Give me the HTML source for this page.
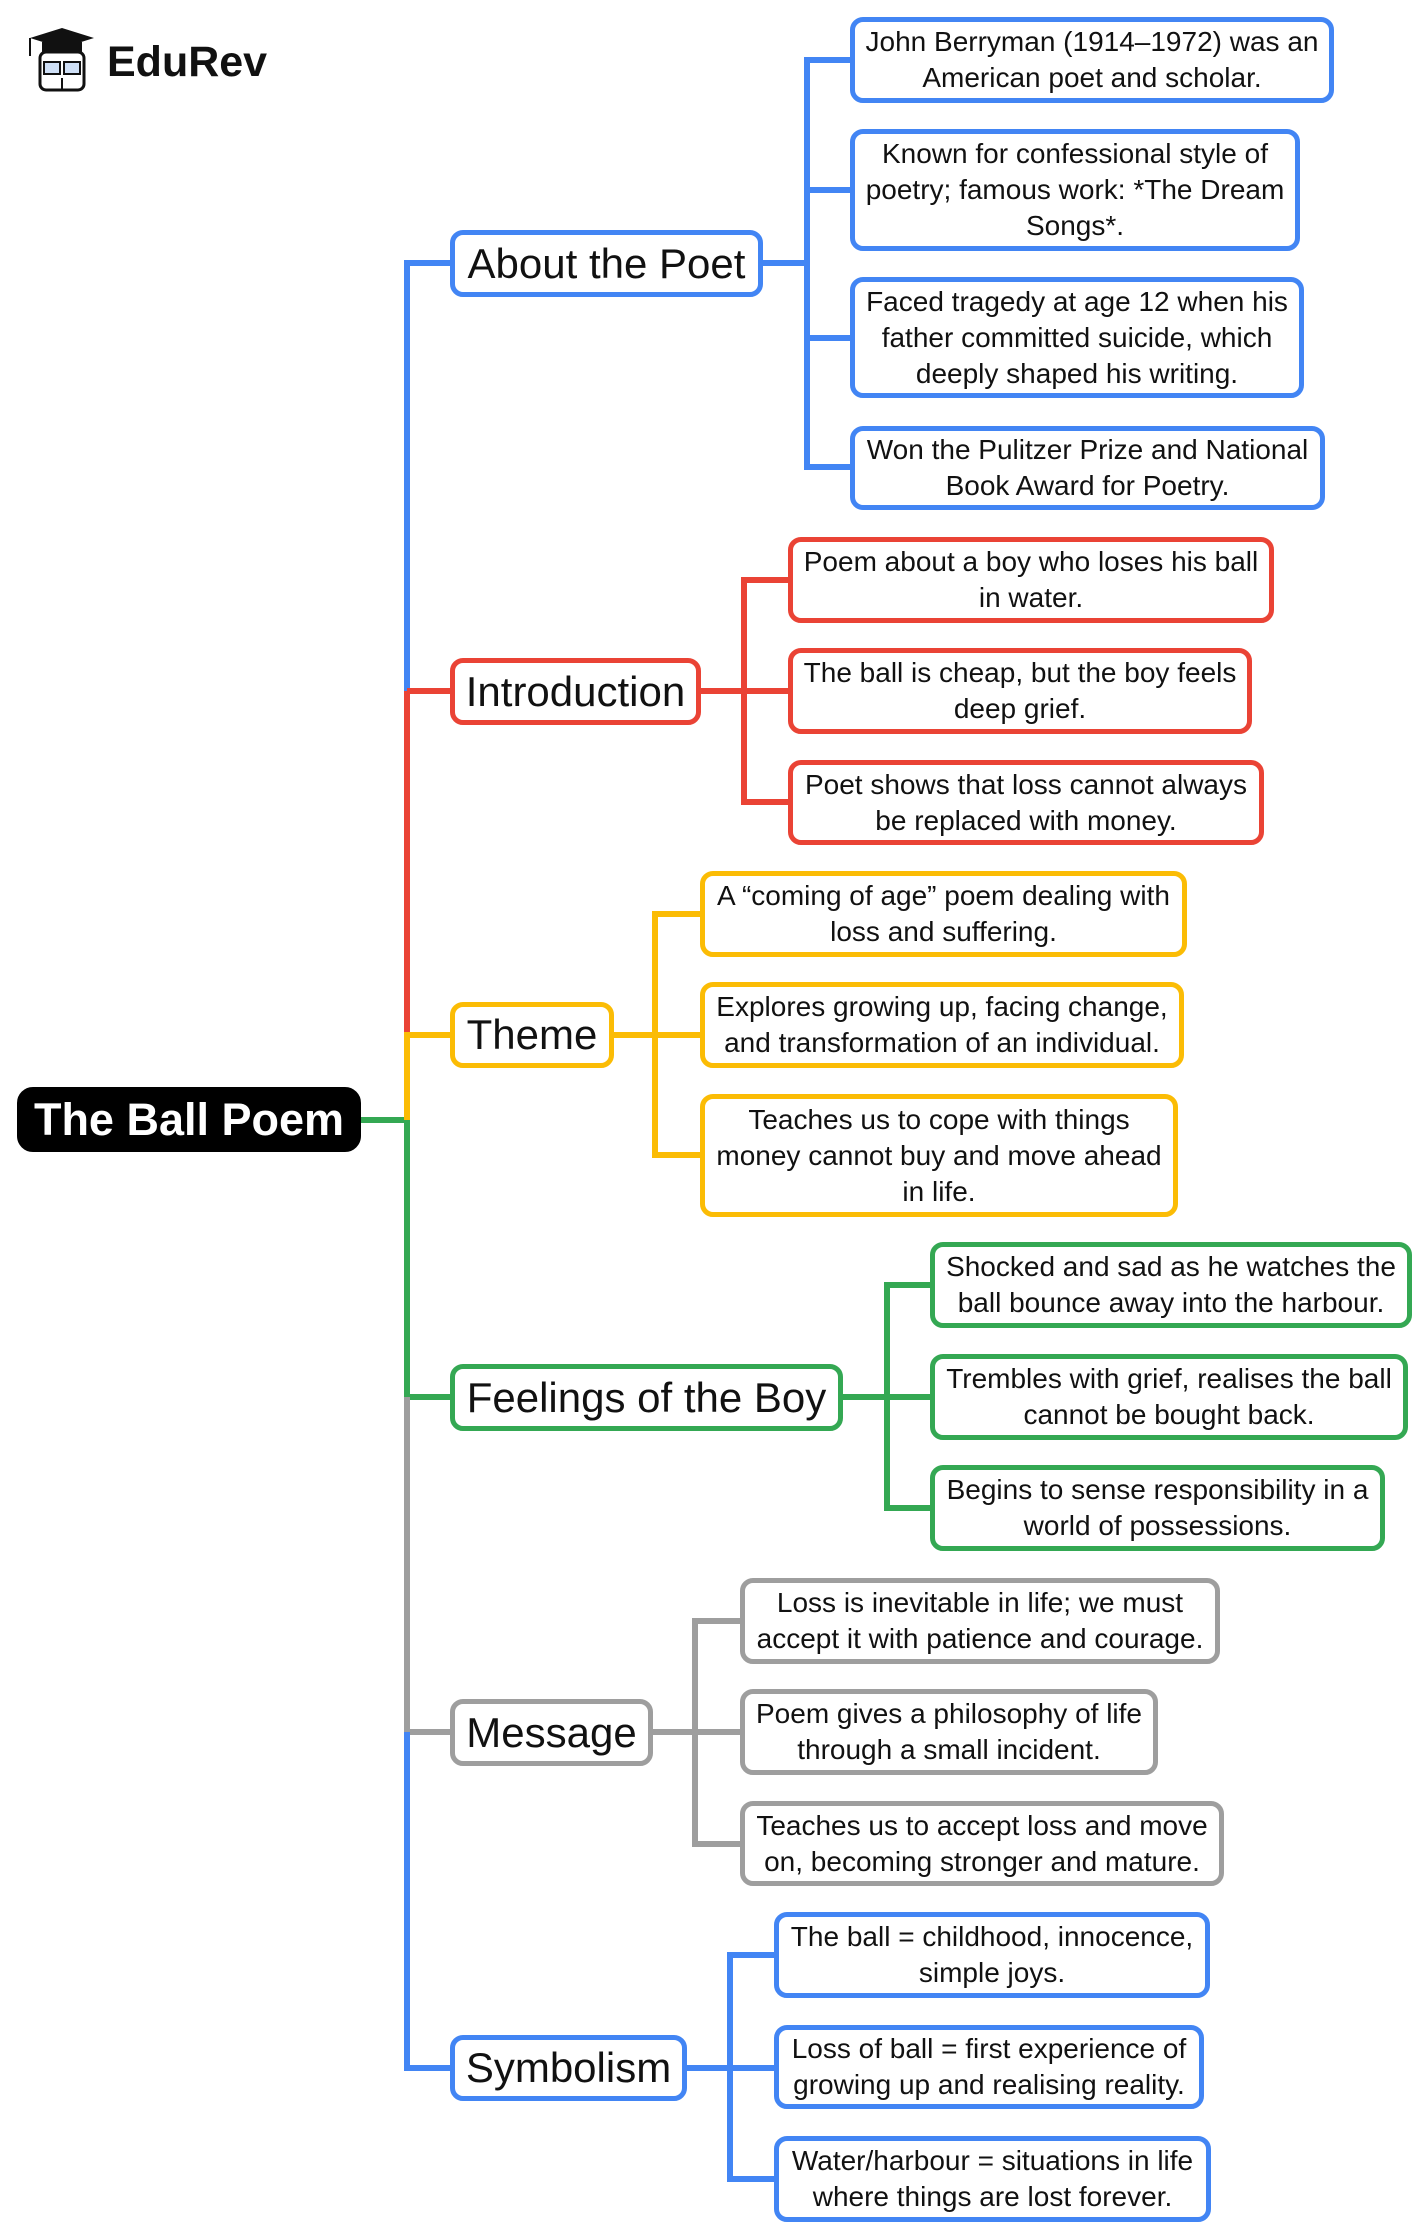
<!DOCTYPE html>
<html><head><meta charset="utf-8"><style>
body{margin:0;width:1428px;height:2237px;background:#fff;position:relative;overflow:hidden;font-family:"Liberation Sans",sans-serif;}
.b{position:absolute;box-sizing:border-box;border:5px solid;border-radius:13px;background:#fff;display:flex;align-items:center;justify-content:center;text-align:center;color:#111;}
.m{font-size:42px;padding:0 6px;white-space:nowrap;}
.l{font-size:28px;line-height:36px;padding:0 8px;}
.B{border-color:#4285F4}.R{border-color:#EA4335}.Y{border-color:#FBBC05}.G{border-color:#34A853}.S{border-color:#9E9E9E}
svg{position:absolute;left:0;top:0}
</style></head><body>
<svg width="1428" height="2237">
<g fill="none" stroke-width="6">
<path d="M361 1120H410" stroke="#34A853"/>
<path d="M407 1120V1397H450" stroke="#34A853"/>
<path d="M450 263H407V691" stroke="#4285F4"/>
<path d="M407 691V1035" stroke="#EA4335"/>
<path d="M450 691H407" stroke="#EA4335"/>
<path d="M450 1035H407V1120" stroke="#FBBC05"/>
<path d="M407 1397V1732H450" stroke="#9E9E9E"/>
<path d="M407 1732V2068H450" stroke="#4285F4"/>
</g>
<g fill="none" stroke-width="6">
<path d="M763 263H807M850 60H807V467H850M807 190H850M807 338H850" stroke="#4285F4"/>
<path d="M701 691H788M788 580H744V802H788" stroke="#EA4335"/>
<path d="M614 1035H700M700 914H655V1155H700" stroke="#FBBC05"/>
<path d="M843 1397H930M930 1285H887V1508H930" stroke="#34A853"/>
<path d="M653 1732H740M740 1621H695V1844H740" stroke="#9E9E9E"/>
<path d="M687 2068H774M774 1955H730V2179H774" stroke="#4285F4"/>
</g>
<g transform="translate(26,26)">
<path d="M4 12 L36 2 L68 12 L36 22 Z" fill="#111"/>
<rect x="16" y="16" width="40" height="10" fill="#111"/>
<path d="M4 12 V30" stroke="#111" stroke-width="2"/>
<rect x="14" y="26" width="44" height="38" rx="6" fill="#fff" stroke="#111" stroke-width="3"/>
<rect x="18" y="36" width="16" height="12" fill="#cfe0f7" stroke="#111" stroke-width="2"/>
<rect x="38" y="36" width="16" height="12" fill="#cfe0f7" stroke="#111" stroke-width="2"/>
<path d="M36 52V64" stroke="#111" stroke-width="2"/>
</g>
<text x="107" y="76" font-family="Liberation Sans" font-weight="bold" font-size="43" fill="#111">EduRev</text>
</svg>

<div class="b" style="left:17px;top:1087px;width:344px;height:65px;background:#000;border-color:#000;border-radius:16px;color:#fff;font-weight:bold;font-size:45px;white-space:nowrap">The Ball Poem</div>

<div class="b m B" style="left:450px;top:230px;width:313px;height:67px">About the Poet</div>
<div class="b m R" style="left:450px;top:658px;width:251px;height:67px">Introduction</div>
<div class="b m Y" style="left:450px;top:1002px;width:164px;height:66px">Theme</div>
<div class="b m G" style="left:450px;top:1364px;width:393px;height:67px">Feelings of the Boy</div>
<div class="b m S" style="left:450px;top:1699px;width:203px;height:67px">Message</div>
<div class="b m B" style="left:450px;top:2035px;width:237px;height:66px">Symbolism</div>

<div class="b l B" style="left:850px;top:17px;width:484px;height:86px">John Berryman (1914–1972) was an American poet and scholar.</div>
<div class="b l B" style="left:850px;top:129px;width:450px;height:122px">Known for confessional style of poetry; famous work: *The Dream Songs*.</div>
<div class="b l B" style="left:850px;top:277px;width:454px;height:121px">Faced tragedy at age 12 when his father committed suicide, which deeply shaped his writing.</div>
<div class="b l B" style="left:850px;top:426px;width:475px;height:84px">Won the Pulitzer Prize and National Book Award for Poetry.</div>

<div class="b l R" style="left:788px;top:537px;width:486px;height:86px">Poem about a boy who loses his ball in water.</div>
<div class="b l R" style="left:788px;top:648px;width:464px;height:86px">The ball is cheap, but the boy feels deep grief.</div>
<div class="b l R" style="left:788px;top:760px;width:476px;height:85px">Poet shows that loss cannot always be replaced with money.</div>

<div class="b l Y" style="left:700px;top:871px;width:487px;height:86px">A “coming of age” poem dealing with loss and suffering.</div>
<div class="b l Y" style="left:700px;top:982px;width:484px;height:86px">Explores growing up, facing change, and transformation of an individual.</div>
<div class="b l Y" style="left:700px;top:1094px;width:478px;height:123px">Teaches us to cope with things money cannot buy and move ahead in life.</div>

<div class="b l G" style="left:930px;top:1242px;width:482px;height:86px">Shocked and sad as he watches the ball bounce away into the harbour.</div>
<div class="b l G" style="left:930px;top:1354px;width:478px;height:86px">Trembles with grief, realises the ball cannot be bought back.</div>
<div class="b l G" style="left:930px;top:1465px;width:455px;height:86px">Begins to sense responsibility in a world of possessions.</div>

<div class="b l S" style="left:740px;top:1578px;width:480px;height:86px">Loss is inevitable in life; we must accept it with patience and courage.</div>
<div class="b l S" style="left:740px;top:1689px;width:418px;height:86px">Poem gives a philosophy of life through a small incident.</div>
<div class="b l S" style="left:740px;top:1801px;width:484px;height:85px">Teaches us to accept loss and move on, becoming stronger and mature.</div>

<div class="b l B" style="left:774px;top:1912px;width:436px;height:86px">The ball = childhood, innocence, simple joys.</div>
<div class="b l B" style="left:774px;top:2025px;width:430px;height:84px">Loss of ball = first experience of growing up and realising reality.</div>
<div class="b l B" style="left:774px;top:2136px;width:437px;height:86px">Water/harbour = situations in life where things are lost forever.</div>
</body></html>
